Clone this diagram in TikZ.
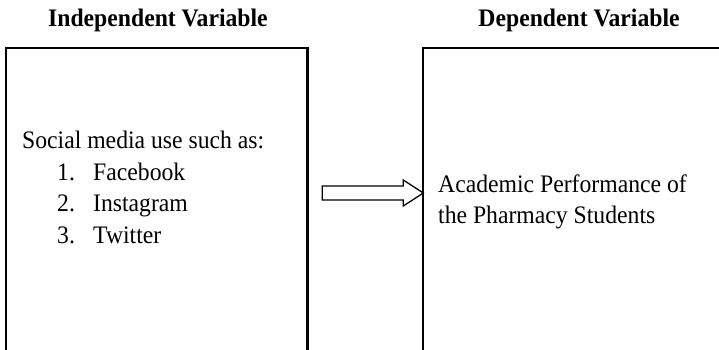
\documentclass[tikz,border=0pt]{standalone}
\usepackage{fontspec}
\setmainfont{Liberation Serif}[FakeStretch=0.94]
\usepackage{tikz}
\usetikzlibrary{positioning,calc}

\begin{document}
\begin{tikzpicture}[
  x=1pt,y=-1pt,
  font=\fontsize{25.2}{31.6}\selectfont,
  frame/.style={rectangle,draw=black,line width=2.2pt,outer sep=0pt,inner sep=0pt,minimum width=301.5pt,minimum height=360pt,anchor=north west},
  head/.style={inner sep=0pt,font=\fontsize{25.2}{31.6}\selectfont\bfseries},
  txt/.style={inner sep=0pt,anchor=base west},
  blockarr/.style={draw=black,line width=1.3pt,fill=white,line join=miter}
]
\useasboundingbox (0,0) rectangle (719,349);
\clip (0,0) rectangle (719,349);
% the two variable boxes run off the page
\node[frame] (iv) at (6,48) {};
\node[frame] (dv) at (423.3,48) {};
\node[head,above=15.9pt of iv,xshift=1.2pt] (ivhead) {Independent Variable};
\node[head,above=15.9pt of dv,xshift=5pt] (dvhead) {Dependent Variable};
% independent variable
\node[txt] (lead) at (22,148.3) {Social media use such as:};
\node[txt] (fb) at (57,180) {\makebox[36pt][l]{1.}Facebook};
\node[txt] (ig) at (57,211.7) {\makebox[36pt][l]{2.}Instagram};
\node[txt] (tw) at (57,243) {\makebox[36pt][l]{3.}Twitter};
% dependent variable
\node[txt] (perf) at (438,192) {Academic Performance of};
\node[txt] (stud) at (438,223.3) {the Pharmacy Students};
% block arrow into the dependent box
\coordinate (tip) at (dv.west |- 0,193);
\draw[blockarr] (tip) -- ++(-20,-13) -- ++(0,6) -- ++(-81,0) -- ++(0,14) -- ++(81,0) -- ++(0,6) -- cycle;
\end{tikzpicture}
\end{document}
